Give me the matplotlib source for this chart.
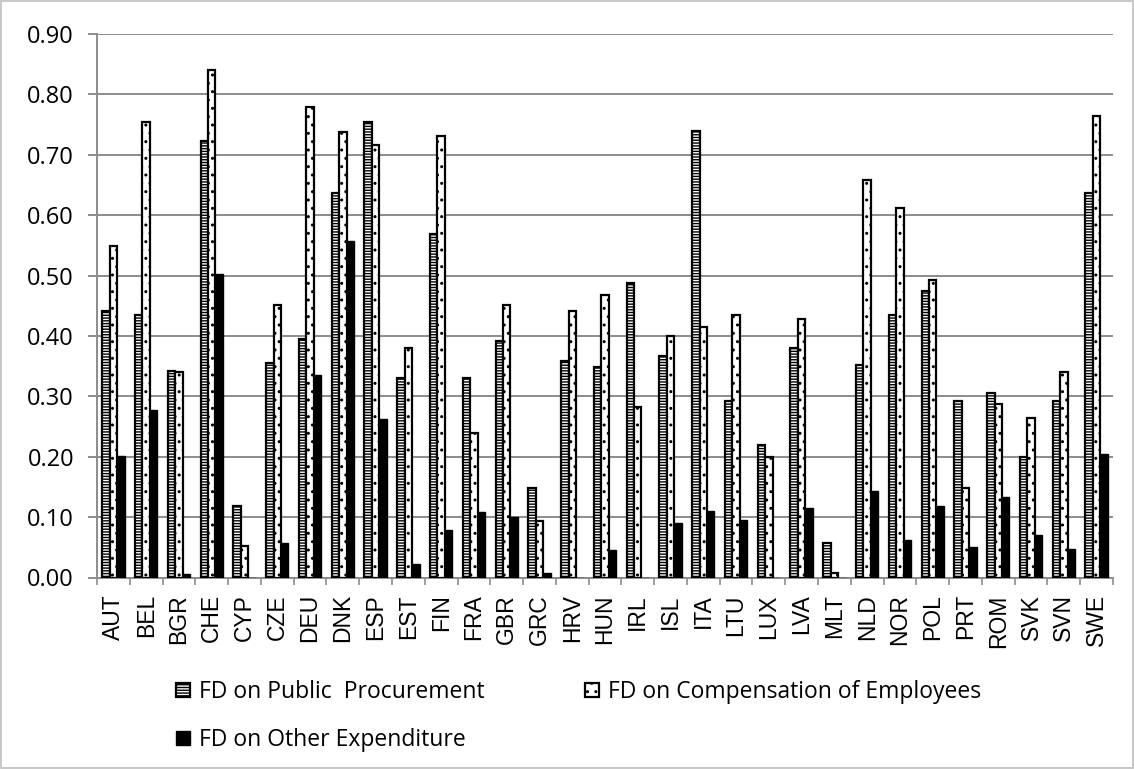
import matplotlib.pyplot as plt
import numpy as np
from matplotlib.patches import Rectangle

countries = ["AUT", "BEL", "BGR", "CHE", "CYP", "CZE", "DEU", "DNK", "ESP", "EST",
             "FIN", "FRA", "GBR", "GRC", "HRV", "HUN", "IRL", "ISL", "ITA", "LTU",
             "LUX", "LVA", "MLT", "NLD", "NOR", "POL", "PRT", "ROM", "SVK", "SVN", "SWE"]

procurement = [0.442, 0.435, 0.342, 0.722, 0.118, 0.355, 0.395, 0.636, 0.754, 0.330,
               0.569, 0.330, 0.392, 0.149, 0.358, 0.348, 0.488, 0.367, 0.739, 0.292,
               0.219, 0.380, 0.057, 0.352, 0.435, 0.474, 0.293, 0.305, 0.200, 0.293, 0.636]
compensation = [0.549, 0.755, 0.341, 0.840, 0.052, 0.451, 0.779, 0.737, 0.716, 0.380,
                0.731, 0.240, 0.451, 0.093, 0.442, 0.467, 0.282, 0.400, 0.415, 0.435,
                0.199, 0.428, 0.007, 0.659, 0.612, 0.492, 0.149, 0.288, 0.264, 0.341, 0.764]
other = [0.202, 0.277, 0.005, 0.503, 0.0, 0.057, 0.335, 0.557, 0.262, 0.023,
         0.078, 0.108, 0.101, 0.007, 0.0, 0.046, 0.0, 0.091, 0.110, 0.095,
         0.0, 0.115, 0.0, 0.144, 0.062, 0.118, 0.050, 0.134, 0.070, 0.048, 0.204]

series_names = ["FD on Public  Procurement", "FD on Compensation of Employees",
                "FD on Other Expenditure"]
yticks = [0.0, 0.1, 0.2, 0.3, 0.4, 0.5, 0.6, 0.7, 0.8, 0.9]

W, H = 1134, 769
GRID = "#8c8c8c"
plt.rcParams["hatch.linewidth"] = 1.0

fig = plt.figure(figsize=(W / 100, H / 100), dpi=100)
ax = fig.add_axes([97 / W, 1 - 577.5 / H, (1113 - 97) / W, (577.5 - 34) / H])

x = np.arange(len(countries))
w = 0.227
b1 = ax.bar(x - w, procurement, w, facecolor="white", edgecolor="black",
            linewidth=1.6, hatch="------", zorder=3)
b2 = ax.bar(x, compensation, w, facecolor="white", edgecolor="black",
            linewidth=1.6, hatch="..", zorder=3)
b3 = ax.bar(x + w, other, w, facecolor="black", edgecolor="black",
            linewidth=1.0, zorder=3)

ax.set_xlim(-0.5, len(countries) - 0.5)
ax.set_ylim(0, 0.9)
ax.set_yticks(yticks)
ax.set_yticklabels([f"{v:.2f}" for v in yticks], fontsize=17, family="Open Sans")
ax.yaxis.grid(True, color=GRID, linewidth=1.4, zorder=0)
ax.tick_params(axis="y", length=6.5, width=1.4, color=GRID, pad=10)

ax.set_xticks(x)
ax.set_xticklabels(countries, rotation=90, fontsize=16.5, family="Liberation Sans")
ax.tick_params(axis="x", length=0, pad=12)
ax.set_xticks(np.arange(-0.5, len(countries), 1), minor=True)
ax.tick_params(axis="x", which="minor", length=5, color=GRID, width=1.2)

for side in ("top", "right"):
    ax.spines[side].set_visible(False)
for side in ("left", "bottom"):
    ax.spines[side].set_color(GRID)
    ax.spines[side].set_linewidth(1.4)

# legend entries placed one by one (Excel lays them out row-wise)
entries = [(b1, series_names[0], 176, 692), (b2, series_names[1], 585, 692),
           (b3, series_names[2], 176, 740)]
for handle, label, lx, ly in entries:
    fig.legend([handle], [label], loc="center left", bbox_to_anchor=(lx / W, 1 - ly / H),
               frameon=False, prop={"family": "Open Sans", "size": 16.5},
               handlelength=0.6, handleheight=0.6, handletextpad=0.4,
               borderpad=0, borderaxespad=0)

fig.patches.append(Rectangle((0.001, 0.001), 0.998, 0.998, transform=fig.transFigure,
                             fill=False, edgecolor="#bfbfbf", linewidth=1.2))

fig.savefig("out.png", dpi=100)
